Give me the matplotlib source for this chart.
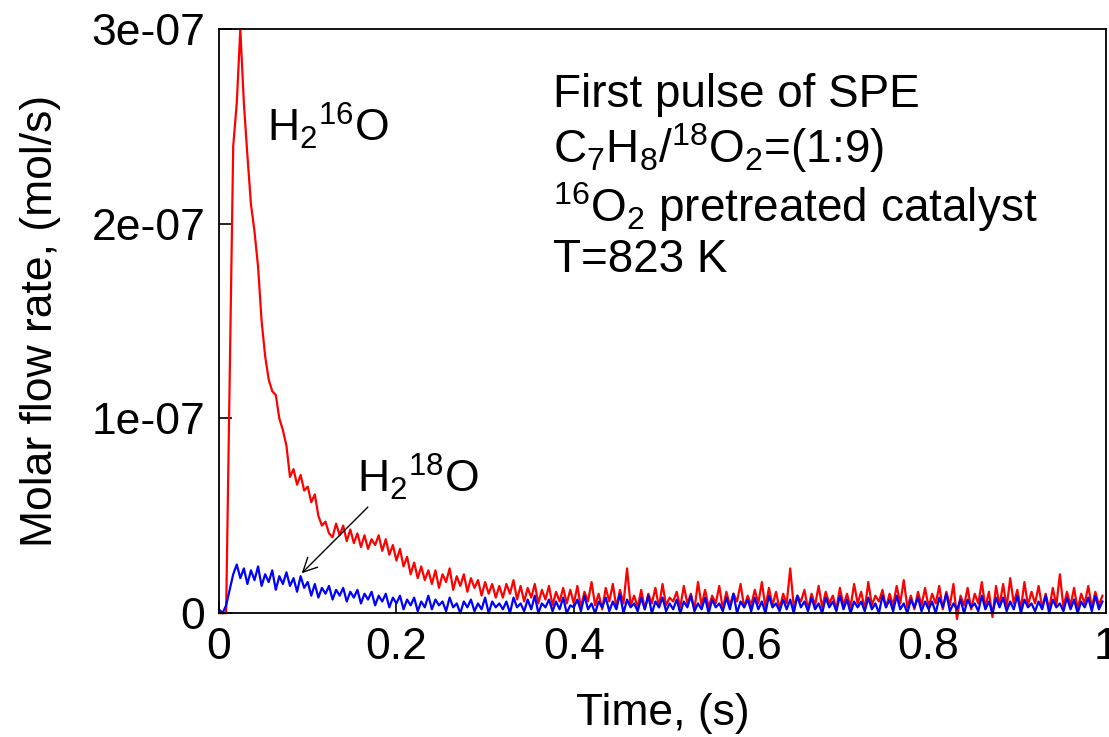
import matplotlib
matplotlib.use("Agg")
import matplotlib.pyplot as plt
import numpy as np

plt.rcParams['font.family'] = ['Liberation Sans', 'DejaVu Sans']
plt.rcParams['mathtext.fontset'] = 'custom'
plt.rcParams['mathtext.rm'] = 'Liberation Sans'
plt.rcParams['mathtext.it'] = 'Liberation Sans'
plt.rcParams['mathtext.default'] = 'regular'

# sampling every 4 ms, values in units of 1e-9 mol/s
dt = 0.004
h2o16 = [
    0, 0, 0, 120, 240, 262, 300, 262, 235, 210,
    196, 178, 150, 132, 120, 114, 112, 100, 94, 86,
    70, 74, 66, 71, 63, 65, 57, 61, 50, 45,
    47, 41, 39, 46, 40, 45, 37, 43, 36, 41,
    34, 40, 33, 38, 35, 40, 32, 38, 30, 35,
    27, 33, 24, 29, 20, 26, 18, 24, 17, 22,
    15, 22, 13, 20, 16, 23, 12, 19, 14, 20,
    11, 18, 13, 17, 9, 16, 10, 15, 8, 14,
    8, 15, 10, 17, 7, 14, 6, 13, 8, 15,
    5, 12, 7, 14, 4, 11, 6, 13, 5, 12,
    5, 14, 3, 11, 6, 16, 4, 10, 2, 13,
    6, 15, 3, 12, 5, 23, 4, 9, 3, 12,
    2, 10, 5, 13, 3, 15, 4, 8, 6, 11,
    3, 14, 5, 10, 2, 16, 4, 12, 3, 9,
    5, 14, 2, 11, 4, 10, 6, 15, 3, 9,
    4, 12, 5, 16, 3, 13, 4, 11, 2, 10,
    5, 23, 3, 9, 6, 12, 2, 10, 4, 14,
    3, 11, 5, 9, 2, 13, 4, 10, 3, 15,
    5, 11, 2, 16, 4, 9, 6, 12, 3, 10,
    4, 14, 5, 17, 3, 9, 2, 11, 4, 13,
    3, 10, 5, 14, 2, 11, 4, 15, -3, 9,
    4, 13, 2, 10, 5, 16, 3, 11, -2, 14,
    4, 15, 3, 18, 5, 12, 2, 16, 4, 11,
    5, 14, 3, 10, 2, 13, 4, 20, 3, 11,
    4, 13, 2, 10, 5, 14, 3, 11, 4, 9,
]
h2o18 = [
    2, 0, 4, 12, 20, 25, 18, 23, 15, 22,
    17, 24, 14, 20, 16, 22, 12, 19, 15, 21,
    14, 18, 11, 19, 13, 16, 9, 15, 8, 13,
    10, 14, 7, 12, 9, 13, 6, 11, 8, 12,
    5, 10, 7, 11, 4, 9, 6, 10, 3, 8,
    5, 9, 2, 7, 4, 8, 1, 6, 3, 9,
    2, 7, 4, 6, 1, 8, 3, 5, 0, 6,
    3, 7, 1, 5, 2, 8, 0, 6, 3, 5,
    2, 6, 0, 8, 3, 5, 1, 7, 2, 9,
    0, 5, 3, 7, 1, 6, 2, 8, 0, 4,
    3, 7, 1, 9, 2, 5, 0, 6, 3, 8,
    1, 6, 2, 10, 0, 7, 3, 5, 1, 8,
    2, 9, 0, 6, 3, 8, 1, 5, 2, 7,
    0, 6, 3, 9, 1, 5, 2, 8, 0, 7,
    3, 5, 1, 8, 2, 10, 0, 6, 3, 7,
    1, 8, 2, 6, 0, 9, 3, 5, 1, 7,
    2, 7, 0, 9, 3, 6, 1, 8, 2, 5,
    0, 8, 3, 6, 1, 9, 2, 7, 0, 6,
    3, 6, 1, 8, 2, 5, 0, 9, 3, 7,
    1, 9, 2, 5, 0, 7, 3, 8, 1, 6,
    2, 6, 0, 8, 3, 10, 1, 5, 2, 7,
    0, 7, 3, 5, 1, 9, 2, 6, 0, 8,
    3, 8, 1, 6, 2, 9, 0, 7, 3, 5,
    1, 6, 2, 9, 0, 7, 3, 5, 1, 8,
    2, 7, 0, 6, 3, 8, 1, 9, 2, 6,
]
x_ticks = [0, 0.2, 0.4, 0.6, 0.8, 1]
x_tick_labels = ['0', '0.2', '0.4', '0.6', '0.8', '1']
y_ticks = [0, 1e-7, 2e-7, 3e-7]
y_tick_labels = ['0', '1e-07', '2e-07', '3e-07']
info_lines = [
    'First pulse of SPE',
    r'C$_7$H$_8$/$^{18}$O$_2$=(1:9)',
    r'$^{16}$O$_2$ pretreated catalyst',
    'T=823 K',
]

t = np.arange(len(h2o16)) * dt
red = np.array(h2o16) * 1e-9
blue = np.array(h2o18) * 1e-9

fig = plt.figure(figsize=(11.09, 7.37), dpi=100)
ax = fig.add_axes([0.1975, 0.168, 0.7998, 0.7926])

ax.plot(t, red, color='#ff0000', linewidth=1.6, clip_on=False)
ax.plot(t, blue, color='#0000ff', linewidth=1.6, clip_on=False)

ax.set_xlim(0, 1)
ax.set_ylim(0, 3e-7)
ax.set_xticks(x_ticks)
ax.set_xticklabels(x_tick_labels)
ax.set_yticks(y_ticks)
ax.set_yticklabels(y_tick_labels)
ax.tick_params(direction='in', length=9, width=1.2, labelsize=32, pad=10)
for s in ax.spines.values():
    s.set_linewidth(1.3)

ax.set_xlabel('Time, (s)', fontsize=32, labelpad=18)
ax.set_ylabel('Molar flow rate, (mol/s)', fontsize=32, labelpad=22)

ax.text(0.054, 2.42e-7, r'H$_2$$^{16}$O', fontsize=32, va='baseline', ha='left')
ax.text(0.156, 0.62e-7, r'H$_2$$^{18}$O', fontsize=32, va='baseline', ha='left')
ax.annotate('', xy=(0.091, 0.195e-7), xytext=(0.170, 0.555e-7),
            arrowprops=dict(arrowstyle='->', color='black', lw=1.0,
                            mutation_scale=25))

ys = [2.60e-7, 2.31e-7, 2.01e-7, 1.75e-7]
for line, yy in zip(info_lines, ys):
    ax.text(0.3766, yy, line, fontsize=33, va='baseline', ha='left')

fig.savefig('out.png', dpi=100)
